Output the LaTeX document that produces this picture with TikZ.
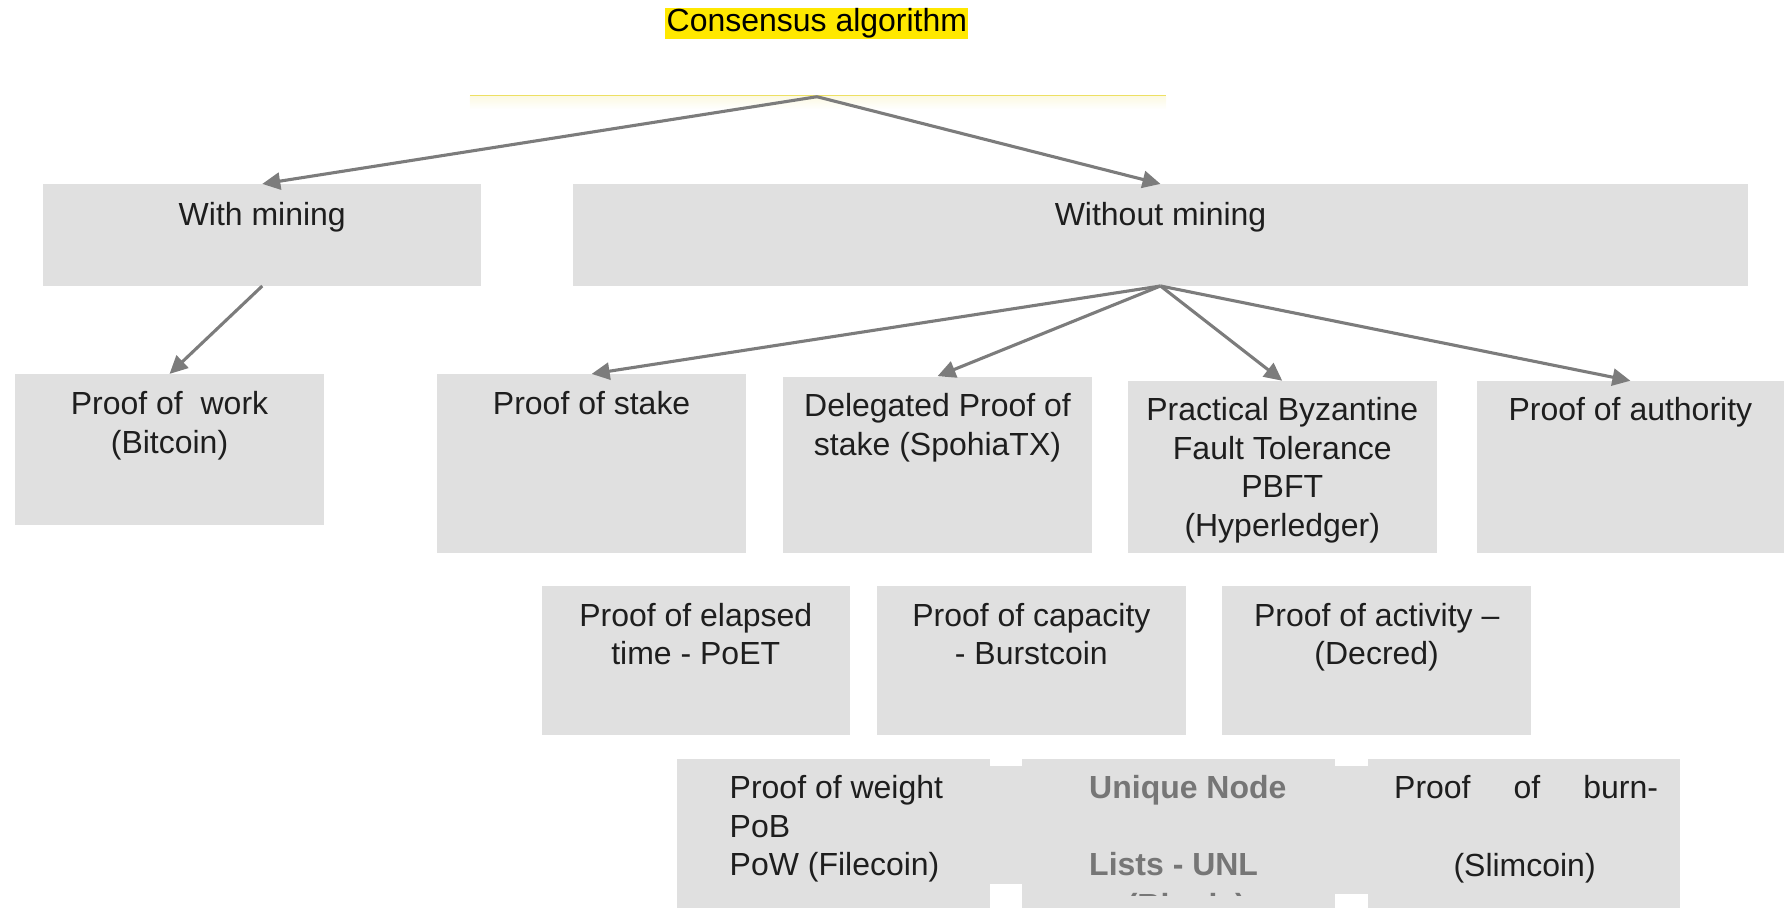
\documentclass[tikz,border=0pt]{standalone}
\usepackage{fontspec}
\setmainfont{Liberation Sans}
\usetikzlibrary{arrows.meta,calc,fit}
\definecolor{boxgrey}{HTML}{E0E0E0}
\definecolor{arrowgrey}{HTML}{7C7C7C}
\definecolor{titleyellow}{HTML}{FFE800}
\definecolor{lineyellow}{HTML}{EDE063}
\definecolor{inkblack}{HTML}{1E1E1E}
\definecolor{listgrey}{HTML}{767676}

\begin{document}
\begin{tikzpicture}[x=0.02cm,y=-0.02cm,
  box/.style={fill=boxgrey, draw=none, inner sep=0pt},
  boxtext/.style={inner sep=0pt, align=center, anchor=north, text=inkblack,
    font=\fontsize{16}{19.4}\selectfont},
  lefttext/.style={boxtext, align=left, anchor=north west},
  arr/.style={draw=arrowgrey, line width=1.55pt, -{Triangle[length=9pt,width=8.5pt]}},
]
\useasboundingbox (0,0) rectangle (1568,798);
\clip (0,0) rectangle (1568,798);

% title and the rule below it
\node[fill=titleyellow, inner xsep=0.6pt, inner ysep=0pt, text height=11.6pt,
  text depth=3.8pt, text=black, font=\fontsize{16}{19.4}\selectfont]
  (title) at (718,20.5) {Consensus algorithm};
\coordinate (ruleL) at (413,84);
\coordinate (ruleR) at (1025,84);
\coordinate (root) at (718,85);
\shade[top color=lineyellow!18, bottom color=white] (413,84.5) rectangle (1025,96);
\draw[lineyellow, line width=0.9pt] (ruleL) -- (ruleR);

% first level
\node[box, fit={(38,162) (423,251)}] (with) {};
\node[box, fit={(504,162) (1536,251)}] (without) {};
\node[boxtext] (with-t) at ($(with.north)+(0,12)$) {\strut With mining};
\node[boxtext] (without-t) at ($(without.north)+(0,12)$) {\strut Without mining};

% second level
\node[box, fit={(13,329) (285,461)}] (pow) {};
\node[box, fit={(384,329) (656,486)}] (pos) {};
\node[box, fit={(688,331) (960,486)}] (dpos) {};
\node[box, fit={(991,335) (1263,486)}] (pbft) {};
\node[box, fit={(1298,335) (1568,486)}] (poa) {};
\node[boxtext] (pow-t) at ($(pow.north)+(0,11.5)$) {\strut Proof of\ \ work\\\strut (Bitcoin)};
\node[boxtext] (pos-t) at ($(pos.north)+(0,11.5)$) {\strut Proof of stake};
\node[boxtext] (dpos-t) at ($(dpos.north)+(0,11.5)$) {\strut Delegated Proof of\\\strut stake (SpohiaTX)};
\node[boxtext] (pbft-t) at ($(pbft.north)+(0,10.5)$) {\strut Practical Byzantine\\\strut Fault Tolerance\\\strut PBFT\\\strut (Hyperledger)};
\node[boxtext] (poa-t) at ($(poa.north)+(0,10.5)$) {\strut Proof of authority};

% third level
\node[box, fit={(476,515) (747,646)}] (poet) {};
\node[box, fit={(771,515) (1042,646)}] (poc) {};
\node[box, fit={(1074,515) (1346,646)}] (poact) {};
\node[boxtext] (poet-t) at ($(poet.north)+(0,11.5)$) {\strut Proof of elapsed\\\strut time - PoET};
\node[boxtext] (poc-t) at ($(poc.north)+(0,11.5)$) {\strut Proof of capacity\\\strut - Burstcoin};
\node[boxtext] (poact-t) at ($(poact.north)+(0,11.5)$) {\strut Proof of activity –\\\strut (Decred)};

% fourth level, joined by grey strips
\fill[boxgrey] (860,673) rectangle (908,777);
\fill[boxgrey] (1163,673) rectangle (1212,786);
\node[box, fit={(595,667) (870,812)}] (pow2) {};
\node[box, fit={(898,667) (1173,812)}] (unl) {};
\node[box, fit={(1202,667) (1477,812)}] (pob) {};
\node[lefttext] (pow2-t) at (641,677.5) {\strut Proof of weight\\\strut PoB\\\strut PoW (Filecoin)};
\node[lefttext, text=listgrey, font=\fontsize{16}{19.4}\selectfont\bfseries]
  (unl-t) at (957,677.5) {\strut Unique Node\\\strut\\\strut Lists - UNL};
% the overflowing last line of the list box is cut by its frame
\begin{scope}
  \clip (898,700) rectangle (1173,787.5);
  \node[lefttext, text=listgrey, font=\fontsize{16}{19.4}\selectfont\bfseries]
    (unl-r) at (990,781) {\strut (Ripple)};
\end{scope}
\node[lefttext] (pob-t) at (1225,677.5) {\strut\hbox to 4.64cm{Proof\hfill of\hfill burn-}};
\node[boxtext] (pob-s) at (1340,746.5) {\strut (Slimcoin)};

% connectors
\draw[arr] (root) -- (with.north);
\draw[arr] (root) -- (without.north);
\draw[arr] (with.south) -- (pow.north);
\draw[arr] (without.south) -- (pos.north);
\draw[arr] (without.south) -- (dpos.north);
\draw[arr] (without.south) -- (pbft.north);
\draw[arr] (without.south) -- (poa.north);
\end{tikzpicture}
\end{document}
